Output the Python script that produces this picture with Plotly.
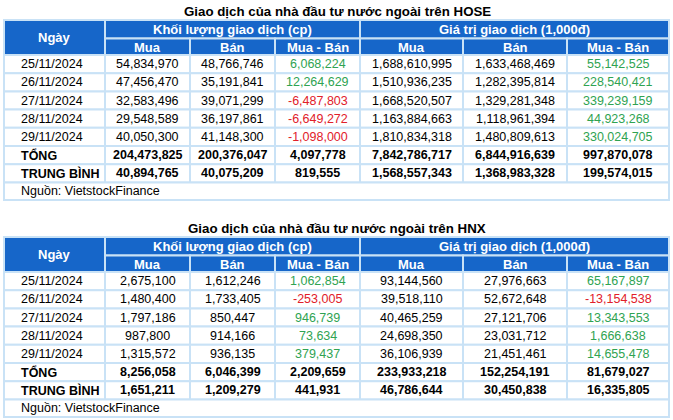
import plotly.graph_objects as go

# ---------------- DATA ----------------
dates = ["25/11/2024", "26/11/2024", "27/11/2024", "28/11/2024", "29/11/2024"]

hose_vol_buy = [54834970, 47456470, 32583496, 29548589, 40050300]
hose_vol_sell = [48766746, 35191841, 39071299, 36197861, 41148300]
hose_vol_net = [6068224, 12264629, -6487803, -6649272, -1098000]
hose_val_buy = [1688610995, 1510936235, 1668520507, 1163884663, 1810834318]
hose_val_sell = [1633468469, 1282395814, 1329281348, 1118961394, 1480809613]
hose_val_net = [55142525, 228540421, 339239159, 44923268, 330024705]
hose_total = [204473825, 200376047, 4097778, 7842786717, 6844916639, 997870078]
hose_avg = [40894765, 40075209, 819555, 1568557343, 1368983328, 199574015]

hnx_vol_buy = [2675100, 1480400, 1797186, 987800, 1315572]
hnx_vol_sell = [1612246, 1733405, 850447, 914166, 936135]
hnx_vol_net = [1062854, -253005, 946739, 73634, 379437]
hnx_val_buy = [93144560, 39518110, 40465259, 24698350, 36106939]
hnx_val_sell = [27976663, 52672648, 27121706, 23031712, 21451461]
hnx_val_net = [65167897, -13154538, 13343553, 1666638, 14655478]
hnx_total = [8256058, 6046399, 2209659, 233933218, 152254191, 81679027]
hnx_avg = [1651211, 1209279, 441931, 46786644, 30450838, 16335805]

titles = ["Giao dịch của nhà đầu tư nước ngoài trên HOSE",
          "Giao dịch của nhà đầu tư nước ngoài trên HNX"]
group_labels = ["Khối lượng giao dịch (cp)", "Giá trị giao dịch (1,000đ)"]
sub_labels = ["Mua", "Bán", "Mua - Bán"]
date_label = "Ngày"
total_label = "TỔNG"
avg_label = "TRUNG BÌNH"
source_label = "Nguồn: VietstockFinance"

# ---------------- STYLE / LAYOUT ----------------
W, H = 673, 420
col_edges = [4, 105, 190, 275, 360, 463, 567, 669]
hdr_h = [18.5, 16.5]
row_h = 18.2
src_h = 17.5
BLUE = "#1666c9"
GRID = "#c9e2f6"
GREEN = "#2fa352"
RED = "#e1202a"
FONT = "Liberation Sans, Arial, sans-serif"
FS = 12.5

shapes = []
annotations = []


def rect(x0, y0, x1, y1, fill):
    shapes.append(dict(type="rect", xref="x", yref="y", x0=x0, y0=y0, x1=x1, y1=y1,
                       fillcolor=fill, line=dict(color=GRID, width=2), layer="below"))


def text(x, y, s, color="black", bold=False, anchor="center", size=FS):
    annotations.append(dict(xref="x", yref="y", x=x, y=y, text=f"<b>{s}</b>" if bold else s,
                            showarrow=False, xanchor=anchor, yanchor="middle",
                            font=dict(family=FONT, size=size, color=color)))


def fmt(v):
    return f"{v:,}"


def draw_table(title_y, top, rows, total, avg, title):
    text(337, title_y, title, bold=True, size=13.3)
    y1 = top + hdr_h[0]
    y2 = y1 + hdr_h[1]
    # header
    rect(col_edges[0], top, col_edges[1], y2, BLUE)
    text((col_edges[0] + col_edges[1]) / 2, (top + y2) / 2, date_label, "white", True, size=13)
    for g in range(2):
        a, b = col_edges[1 + 3 * g], col_edges[4 + 3 * g]
        rect(a, top, b, y1, BLUE)
        text((a + b) / 2, (top + y1) / 2 + 0.5, group_labels[g], "white", True, size=13)
        for k in range(3):
            c0, c1 = col_edges[1 + 3 * g + k], col_edges[2 + 3 * g + k]
            rect(c0, y1, c1, y2, BLUE)
            text((c0 + c1) / 2, (y1 + y2) / 2 + 0.5, sub_labels[k], "white", True, size=13)
    # body
    body = [[dates[i]] + [r[i] for r in rows] for i in range(len(dates))]
    body.append([total_label] + total)
    body.append([avg_label] + avg)
    for i, row in enumerate(body):
        ry0 = y2 + i * row_h
        ry1 = ry0 + row_h
        cy = (ry0 + ry1) / 2
        bold = i >= len(dates)
        for j, v in enumerate(row):
            c0, c1 = col_edges[j], col_edges[j + 1]
            rect(c0, ry0, c1, ry1, "white")
            if j == 0:
                text(c0 + 15, cy, v, bold=bold, anchor="left")
            else:
                color = "black"
                if not bold and j in (3, 6):
                    color = GREEN if v >= 0 else RED
                text((c0 + c1) / 2, cy, fmt(v), color=color, bold=bold)
    sy0 = y2 + len(body) * row_h
    rect(col_edges[0], sy0, col_edges[-1], sy0 + src_h, "white")
    text(col_edges[0] + 15, sy0 + src_h / 2, source_label, anchor="left")


draw_table(11, 20, [hose_vol_buy, hose_vol_sell, hose_vol_net, hose_val_buy, hose_val_sell, hose_val_net],
           hose_total, hose_avg, titles[0])
draw_table(228, 237, [hnx_vol_buy, hnx_vol_sell, hnx_vol_net, hnx_val_buy, hnx_val_sell, hnx_val_net],
           hnx_total, hnx_avg, titles[1])

fig = go.Figure()
fig.update_layout(
    width=W, height=H, margin=dict(l=0, r=0, t=0, b=0),
    paper_bgcolor="white", plot_bgcolor="white",
    xaxis=dict(range=[0, W], visible=False, fixedrange=True),
    yaxis=dict(range=[H, 0], visible=False, fixedrange=True),
    shapes=shapes, annotations=annotations, showlegend=False,
)
fig.write_html("out.html", config={"displayModeBar": False},
               post_script="document.body.style.margin='0';document.body.style.overflow='hidden';")
